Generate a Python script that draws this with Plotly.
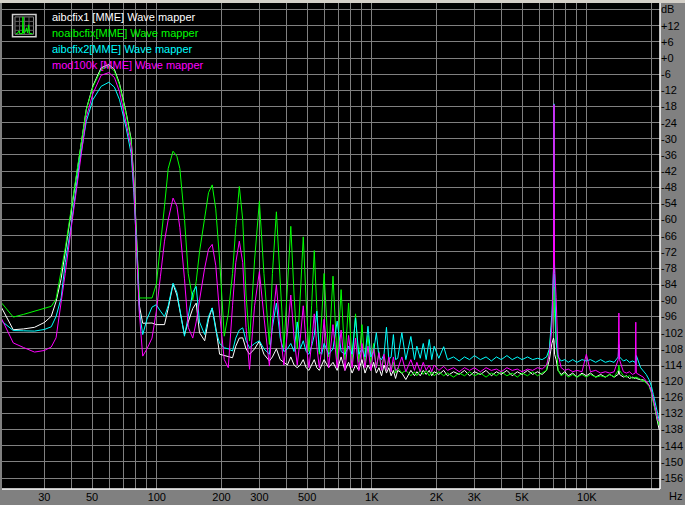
import plotly.graph_objects as go

# Spectrum of four recordings (RMAA style), frequency in Hz, level in dB
freq = [
    # fundamental around 60 Hz
    19, 21.5, 24, 27, 30, 32.3, 34, 35.9, 37.5, 40,
    43.7, 47, 50.4, 55.1, 59.8, 63.5, 67.1, 72, 76, 78.2,
    80.5, 83, 86, 90, 95, 99.5,
    # harmonics 120..600 Hz
    104, 108.6, 113, 119, 124, 128, 134.5, 140, 147, 152.5,
    158, 167, 174, 181, 188, 196, 206, 215, 225, 233,
    242, 251, 260, 270, 285, 300, 315, 334, 345, 360,
    375, 390, 405, 420, 435, 450, 465, 480, 495, 510,
    525, 540, 555, 570, 585, 600,
    # harmonics 630..1290 Hz
    630, 660, 690, 720, 750, 780, 810, 840, 870, 900,
    930, 960, 990, 1020, 1050, 1080, 1110, 1140, 1170, 1200,
    1230, 1260, 1290,
    # noise floor
    1320, 1380, 1440, 1520, 1580, 1620, 1680, 1735, 1790, 1850,
    1900, 1950, 2050, 2160, 2250, 2400, 2550, 2700, 2850, 3000,
    3200, 3400, 3600, 3800, 4000, 4250, 4500, 4750, 5000, 5300,
    5600, 5900, 6200, 6500, 6700, 6880, 7000, 7040, 7080, 7200,
    7350, 7600, 7900, 8200, 8600, 9000, 9500, 9950, 10400, 11000,
    11600, 12200, 12800, 13400, 14000, 14100, 14200, 14800, 15300, 15800,
    16300, 16800, 16900, 17000, 17800, 18300, 18900, 19500, 20000, 20400,
    20800, 21100, 21400, 21700,
]

aibcfix1 = [
    -92.8, -100.9, -100.6, -100.0, -98.2, -95.9, -90.4, -82.0, -72.0, -57.0,
    -36.2, -19.0, -10.4, -3.6, -2.4, -4.2, -9.5, -20.2, -30.1, -45.0,
    -66.0, -92.0, -98.5, -98.4, -98.4, -99.0,
    -99.0, -99.0, -93.0, -84.0, -88.0, -94.0, -102.7, -98.0, -93.0, -91.0,
    -102.0, -105.0, -97.0, -92.8, -100.0, -110.0, -110.5, -110.7, -111.3, -107.0,
    -104.0, -103.9, -108.0, -110.0, -108.0, -105.1, -110.0, -112.5, -111.0, -108.0,
    -112.0, -113.0, -114.0, -111.0, -114.0, -115.0, -114.0, -112.0, -115.0, -116.0,
    -114.0, -112.0, -115.0, -116.0, -114.0, -112.0,
    -115, -113, -116, -111, -116, -113, -117, -114, -116, -112,
    -117, -114, -116, -113, -117, -115, -118, -114, -117, -115,
    -118, -116, -119,
    -116, -117, -119.4, -116, -118, -116.5, -118, -116, -117.5, -116,
    -118, -116.5, -117.5, -116, -118, -116.5, -117.5, -116, -118, -116.5,
    -117.5, -116, -118, -116.5, -117.5, -116, -118, -116.5, -117.5, -116,
    -117.5, -116.5, -117.5, -116, -112, -106, -104, -105, -110, -112,
    -116, -117.5, -116.5, -118, -117, -118.5, -117, -118, -117, -118.5,
    -117.5, -118.5, -117.5, -118.5, -117.5, -116, -117.5, -118.5, -118, -119,
    -118.5, -119, -118.5, -119, -119.5, -119.5, -120.5, -121.5, -124, -127.5,
    -130, -132.5, -135, -138,
]

noaibcfix = [
    -91.0, -96.2, -95.2, -94.0, -93.0, -92.2, -89.5, -79.3, -70.7, -56.0,
    -35.5, -19.2, -10.8, -4.2, -3.0, -4.8, -10.0, -20.8, -30.8, -46.0,
    -67.0, -89.1, -89.1, -89.1, -89.1, -84.0,
    -70, -55, -41, -34.6, -36.5, -41, -59.6, -80, -89.8, -83,
    -72, -60, -50, -47.1, -56, -75, -103.3, -95, -80, -63,
    -47.7, -60, -88, -105.1, -75, -53.2, -80, -106.4, -80, -57.1,
    -85, -107.6, -85, -62.5, -88, -108, -88, -66.4, -90, -109,
    -92, -71.5, -93, -110, -96, -80,
    -111, -81, -112, -86, -112, -91, -113, -95, -113, -99,
    -114, -103, -114, -106, -115, -109, -115, -111, -116, -112,
    -116, -113, -117,
    -115, -117, -116, -118, -116.5, -118, -116, -117.5, -116, -118,
    -116.5, -118, -116.5, -118, -117, -118.5, -117, -118, -116.5, -118,
    -117, -118.5, -117, -118, -116.5, -118, -117, -118.5, -117, -118,
    -116.5, -118, -117, -116, -108, -98, -87, -85, -95, -104,
    -116, -118, -117, -118.5, -117.5, -118.5, -117.5, -118.5, -117.5, -118.5,
    -118, -118.5, -117.5, -118.5, -116, -114.2, -116, -118, -118.5, -118,
    -119, -118.5, -119, -118.5, -119.5, -120, -120.5, -122, -124.5, -128,
    -131, -133, -135, -136.5,
]

aibcfix2 = [
    -97.7, -101.2, -101.3, -101.4, -100.8, -99.8, -96.0, -89.1, -76.0, -62.0,
    -38.7, -23.5, -15.5, -10.5, -9.0, -10.8, -15.5, -26.0, -35.5, -50.0,
    -70.0, -94.0, -102.7, -97.0, -92.5, -91.6,
    -94, -96, -92, -83.6, -87, -94, -103.3, -96, -87, -84.8,
    -98, -102.7, -96, -92.8, -101, -106, -107.6, -108, -108.8, -104,
    -101, -100.2, -105, -107.6, -106, -105, -108, -110, -100, -91,
    -104, -109, -108, -106, -109, -98, -108, -105, -109, -110,
    -107, -103, -94, -109, -110, -106,
    -110, -108, -97.7, -109, -110, -107, -110, -96.5, -110, -108,
    -111, -99.6, -111, -109, -102, -111, -112, -110, -100, -112,
    -111, -102.7, -112,
    -111.5, -102, -112, -103.4, -112, -107, -111.5, -106, -112, -104.5,
    -112, -107, -111.5, -107.2, -112, -111, -112.5, -111, -112, -110.5,
    -112, -111, -112.5, -111, -112, -110.5, -112, -111, -112, -111,
    -112, -111.5, -112, -111, -108, -95, -78.7, -17.0, -80, -105.5,
    -111, -112.5, -112, -113, -112, -113, -112, -112.5, -112, -113,
    -112, -113, -112.5, -113, -111, -106.4, -111, -112.5, -112, -113,
    -112.5, -113, -114, -110.5, -115, -116, -117.5, -119.5, -122, -125,
    -128, -130, -133, -134.5,
]

mod100k = [
    -96.9, -105.8, -107.5, -109.2, -108.6, -107.3, -103.9, -91.0, -80.0, -63.0,
    -39.5, -22.0, -13.3, -6.4, -5.4, -7.2, -12.5, -23.5, -33.0, -48.0,
    -69.0, -95.0, -110.7, -108.0, -104.0, -94.0,
    -81, -68, -60, -52, -55, -63, -82, -100, -104, -98,
    -90, -78, -71, -69.2, -77, -95, -112, -115, -92, -76,
    -68, -76, -100, -115.6, -92, -79.3, -96, -114.4, -98, -84.2,
    -102, -114, -102, -88, -104, -114, -104, -92, -106, -115,
    -106, -95, -107, -115, -108, -97,
    -115, -99, -115, -101, -116, -103, -115, -104, -116, -106,
    -115, -107, -116, -108, -115, -109.4, -116, -110, -116, -111,
    -116.5, -111, -116,
    -115.5, -111, -116.5, -112, -116, -113, -116.5, -113, -116, -114,
    -116.5, -114, -116, -114.5, -116, -115, -116.5, -115, -116, -115,
    -116.5, -115, -116, -115.5, -116.5, -115, -116, -115.5, -116.5, -115.5,
    -116, -115, -115.5, -114, -110, -100, -78, -17.3, -77, -89,
    -110, -115, -116, -115.5, -116.5, -116, -116.5, -110, -116.5, -116,
    -117, -116.5, -117, -116.5, -112, -94.7, -112, -116.5, -117, -116.5,
    -117.5, -117, -98.1, -117, -118, -118.5, -120, -121.5, -124, -127.3,
    -130, -132, -134, -135,
]

series_names = ["aibcfix1 [MME] Wave mapper", "noaibcfix[MME] Wave mapper",
                "aibcfix2[MME] Wave mapper", "mod100k [MME] Wave mapper"]
series_colors = ["#ffffff", "#00ff00", "#00ffff", "#ff00ff"]

x_grid = [30, 40, 50, 60, 70, 80, 90, 100, 200, 300, 400, 500, 600, 700, 800, 900,
          1000, 2000, 3000, 4000, 5000, 6000, 7000, 8000, 9000, 10000, 20000]
x_labels = {30: "30", 50: "50", 100: "100", 200: "200", 300: "300", 500: "500",
            1000: "1K", 2000: "2K", 3000: "3K", 5000: "5K", 10000: "10K"}
y_grid = list(range(18, -157, -6))


def db_label(v):
    if v == 18:
        return "dB"
    if v >= 0:
        return "+%d" % v
    return "%d" % v


# plot area in window pixels
PL, PR, PT, PB = 2, 660, 3, 492


def px(x):
    return (x - PL) / (PR - PL)


def py(y):
    return 1 - (y - PT) / (PB - PT)


fig = go.Figure()
for vals, name, color in zip([aibcfix1, noaibcfix, aibcfix2, mod100k], series_names, series_colors):
    fig.add_trace(go.Scatter(x=freq, y=vals, mode="lines", name=name,
                             line=dict(color=color, width=1), hoverinfo="skip"))

font = "Liberation Sans, Arial, sans-serif"
annotations = []
for i, (name, color) in enumerate(zip(series_names, series_colors)):
    annotations.append(dict(xref="paper", yref="paper", x=px(50), y=py(17 + 16 * i),
                            xanchor="left", yanchor="middle", showarrow=False, text=name,
                            font=dict(family=font, size=11, color=color)))
annotations.append(dict(xref="paper", yref="paper", x=px(667), y=py(499), xanchor="left",
                        yanchor="middle", showarrow=False, text="Hz",
                        font=dict(family=font, size=11, color="black")))

# legend icon and window border
shapes = [
    dict(type="rect", xref="paper", yref="paper", x0=px(12.5), x1=px(36), y0=py(14.5), y1=py(37),
         line=dict(color="#d0d0d0", width=1.5), fillcolor="black"),
    dict(type="rect", xref="paper", yref="paper", x0=px(15), x1=px(33.5), y0=py(17), y1=py(34.5),
         line=dict(color="#808080", width=1), fillcolor="black"),
]
for gx in (19.5, 24.5, 29):
    shapes.append(dict(type="line", xref="paper", yref="paper", x0=px(gx), x1=px(gx),
                       y0=py(17), y1=py(34.5), line=dict(color="#606060", width=1)))
for gy in (21.5, 26, 30.5):
    shapes.append(dict(type="line", xref="paper", yref="paper", x0=px(15), x1=px(33.5),
                       y0=py(gy), y1=py(gy), line=dict(color="#606060", width=1)))
shapes.append(dict(type="path", xref="paper", yref="paper", line=dict(color="#00ff00", width=1),
                   path="M %f %f L %f %f L %f %f L %f %f L %f %f L %f %f L %f %f L %f %f "
                        "L %f %f L %f %f L %f %f L %f %f L %f %f" % (
                       px(16), py(34), px(18), py(33), px(19), py(31), px(20), py(34),
                       px(22.5), py(33.5), px(23), py(17), px(23.5), py(33.5), px(25.5), py(32),
                       px(26.5), py(28), px(27.5), py(33), px(28.7), py(25), px(29.5), py(33.5),
                       px(32.5), py(34))))
shapes += [
    dict(type="line", xref="paper", yref="paper", x0=0, x1=1, y0=0, y1=0,
         line=dict(color="white", width=1.5)),
    dict(type="line", xref="paper", yref="paper", x0=1, x1=1, y0=0, y1=1,
         line=dict(color="white", width=1.5)),
    dict(type="rect", xref="paper", yref="paper", x0=px(0), x1=1.05, y0=1, y1=py(0),
         line=dict(width=0), fillcolor="#d4d0c8"),
]

fig.update_layout(
    width=685, height=505,
    margin=dict(l=PL, r=685 - PR, t=PT, b=505 - PB, pad=0),
    paper_bgcolor="#808080", plot_bgcolor="black",
    showlegend=False,
    annotations=annotations, shapes=shapes,
    xaxis=dict(type="log", range=[1.28, 4.3405], tickvals=x_grid,
               ticktext=[x_labels.get(v, "") for v in x_grid],
               showgrid=True, gridcolor="#808080", gridwidth=1, ticks="",
               zeroline=False, showline=False, fixedrange=True,
               tickfont=dict(family=font, size=11, color="black")),
    yaxis=dict(range=[-160.05, 20.45], side="right", tickvals=y_grid,
               ticktext=[db_label(v) for v in y_grid],
               showgrid=True, gridcolor="#808080", gridwidth=1, ticks="",
               zeroline=False, showline=False, fixedrange=True,
               tickfont=dict(family=font, size=11, color="black")),
)

fig.write_html("out.html", config={"displayModeBar": False},
               post_script="document.body.style.margin='0';document.body.style.overflow='hidden';")
